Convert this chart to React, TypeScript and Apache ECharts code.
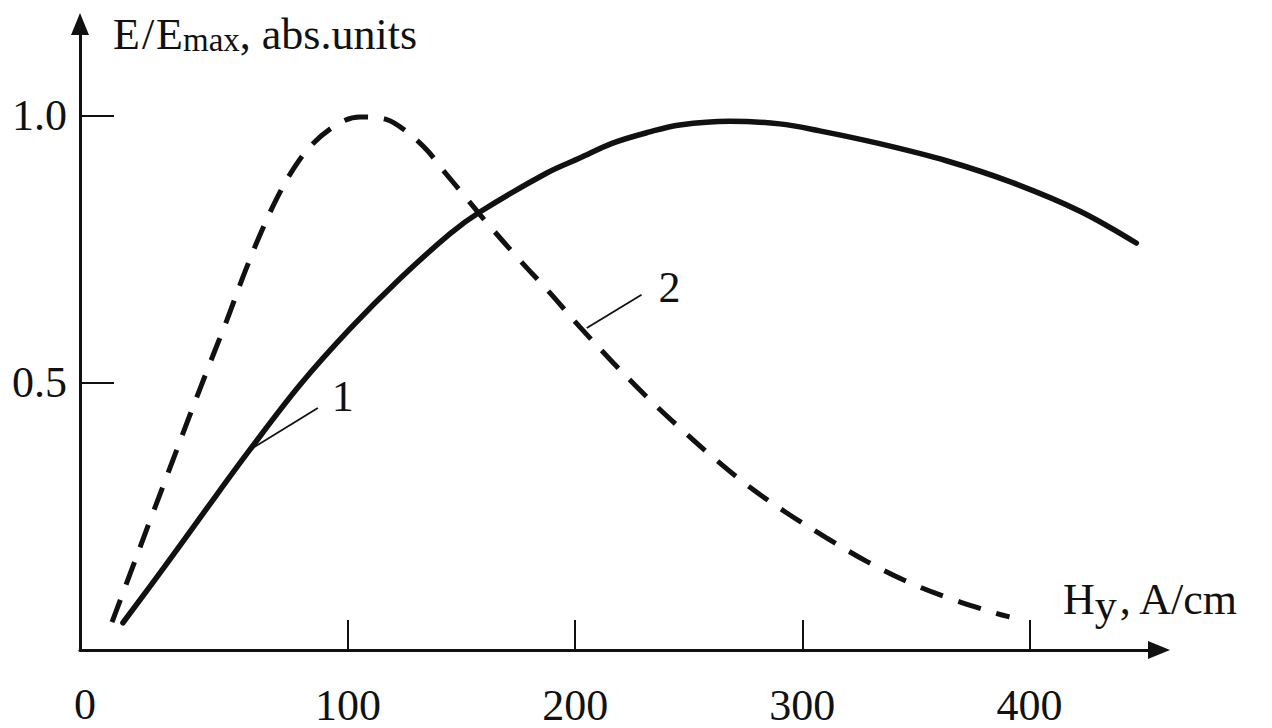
import React, { useEffect, useRef } from "react";
import * as echarts from "echarts";

// Curve 1 (solid): H_y (A/cm) vs E/Emax
const curve1X = [0.9, 19.4, 38.3, 56.8, 78.8, 100.8, 122.8, 144.8, 158, 187.5, 202, 216.5, 232.8, 246, 268, 290, 307.6, 334, 363.4, 392.5, 422, 447];
const curve1Y = [0.051, 0.157, 0.268, 0.375, 0.496, 0.601, 0.695, 0.779, 0.82, 0.893, 0.921, 0.949, 0.97, 0.983, 0.99, 0.985, 0.972, 0.948, 0.916, 0.875, 0.822, 0.762];

// Curve 2 (dashed)
const curve2X = [-3.9, 4.0, 12.8, 21.6, 30.4, 39.2, 46.7, 53.7, 61.2, 68.7, 75.7, 84.5, 96.4, 105.2, 117.1, 125.9, 134.7, 141.7, 152.3, 161.1, 175.6, 188.8, 202, 216.9, 231, 245.5, 260.9, 276.8, 293, 310.6, 328.7, 346.7, 365.6, 385, 391.2];
const curve2Y = [0.052, 0.142, 0.242, 0.341, 0.44, 0.537, 0.618, 0.698, 0.777, 0.846, 0.899, 0.948, 0.987, 0.998, 0.993, 0.97, 0.936, 0.899, 0.845, 0.8, 0.73, 0.669, 0.605, 0.537, 0.476, 0.418, 0.36, 0.305, 0.257, 0.21, 0.165, 0.127, 0.0955, 0.069, 0.062];

// Leader lines for curve labels
const leader1X = [56.8, 86.7];
const leader1Y = [0.375, 0.453];
const leader2X = [205.1, 229.2];
const leader2Y = [0.603, 0.665];

const xTicks = [100, 200, 300, 400];
const yTicks = [0.5, 1.0];
const X_MIN = -18;
const X_MAX = 457;
const Y_MIN = 0;
const Y_MAX = 1.172;

const INK = "#111111";
const FONT = "Liberation Serif";

const zip = (xs: number[], ys: number[]) => xs.map((x, i) => [x, ys[i]]);

export default function App() {
  const ref = useRef<HTMLDivElement>(null);

  useEffect(() => {
    if (!ref.current) return;
    const chart = echarts.init(ref.current, undefined, { renderer: "svg" });
    chart.setOption({
      animation: false,
      backgroundColor: "#ffffff",
      grid: { left: 80, right: 113, top: 24, bottom: 78, outerBoundsMode: "none", containLabel: false },
      xAxis: {
        type: "value",
        min: X_MIN,
        max: X_MAX,
        name: "{n|H}{sub|y}{n|, A/cm}",
        nameLocation: "end",
        nameGap: -96,
        nameTextStyle: {
          align: "left",
          verticalAlign: "bottom",
          padding: [0, 0, 17, 0],
          rich: {
            n: { fontFamily: FONT, fontSize: 44, lineHeight: 44, color: INK, verticalAlign: "top" },
            sub: { fontFamily: FONT, fontSize: 44, lineHeight: 56, color: INK, padding: [0, 3, 0, 0] },
          },
        },
        axisLine: {
          show: true,
          onZero: false,
          symbol: ["none", "triangle"],
          symbolSize: [18, 22],
          lineStyle: { color: INK, width: 3 },
        },
        axisTick: {
          show: true,
          inside: true,
          length: 30,
          customValues: xTicks,
          lineStyle: { color: INK, width: 2 },
        },
        axisLabel: {
          show: true,
          customValues: xTicks,
          margin: 33,
          fontFamily: FONT,
          fontSize: 44,
          color: INK,
        },
        splitLine: { show: false },
      },
      yAxis: {
        type: "value",
        min: Y_MIN,
        max: Y_MAX,
        name: "{m|E}{sl|/}{m|E}{s|max}{m|, abs.units}",
        nameLocation: "end",
        nameGap: -9,
        nameTextStyle: {
          align: "left",
          verticalAlign: "middle",
          padding: [0, 0, 0, 33],
          rich: {
            m: { fontFamily: FONT, fontSize: 44, lineHeight: 46, color: INK, verticalAlign: "bottom" },
            sl: { fontFamily: FONT, fontSize: 44, lineHeight: 46, color: INK, verticalAlign: "bottom", padding: [0, 2, 0, 2] },
            s: { fontFamily: FONT, fontSize: 33, lineHeight: 38, color: INK, verticalAlign: "bottom" },
          },
        },
        axisLine: {
          show: true,
          onZero: false,
          symbol: ["none", "triangle"],
          symbolSize: [18, 22],
          lineStyle: { color: INK, width: 3 },
        },
        axisTick: {
          show: true,
          inside: true,
          length: 34,
          customValues: yTicks,
          lineStyle: { color: INK, width: 2 },
        },
        axisLabel: {
          show: true,
          customValues: yTicks,
          margin: 13,
          formatter: (v: number) => v.toFixed(1),
          fontFamily: FONT,
          fontSize: 44,
          color: INK,
        },
        splitLine: { show: false },
      },
      graphic: [
        {
          type: "text",
          x: 85,
          y: 704,
          style: {
            text: "0",
            fontFamily: FONT,
            fontSize: 44,
            fill: INK,
            align: "center",
            verticalAlign: "middle",
          },
        },
      ],
      series: [
        {
          type: "line",
          data: zip(curve1X, curve1Y),
          smooth: 0.35,
          showSymbol: false,
          symbol: "none",
          lineStyle: { color: INK, width: 5.5, cap: "round" },
        },
        {
          type: "line",
          data: zip(curve2X, curve2Y),
          smooth: 0.35,
          showSymbol: false,
          symbol: "none",
          lineStyle: { color: INK, width: 5, type: [24, 16], cap: "butt" },
        },
        {
          type: "line",
          data: zip(leader1X, leader1Y),
          showSymbol: false,
          symbol: "none",
          lineStyle: { color: INK, width: 1.8 },
          endLabel: {
            show: true,
            formatter: "1",
            distance: 0,
            offset: [14, -12],
            fontFamily: FONT,
            fontSize: 44,
            color: INK,
          },
        },
        {
          type: "line",
          data: zip(leader2X, leader2Y),
          showSymbol: false,
          symbol: "none",
          lineStyle: { color: INK, width: 1.8 },
          endLabel: {
            show: true,
            formatter: "2",
            distance: 0,
            offset: [17, -7],
            fontFamily: FONT,
            fontSize: 44,
            color: INK,
          },
        },
      ],
    });
    return () => chart.dispose();
  }, []);

  return (
    <div
      ref={ref}
      style={{ position: "fixed", left: 0, top: 0, width: 1272, height: 728, background: "#fff" }}
    />
  );
}
